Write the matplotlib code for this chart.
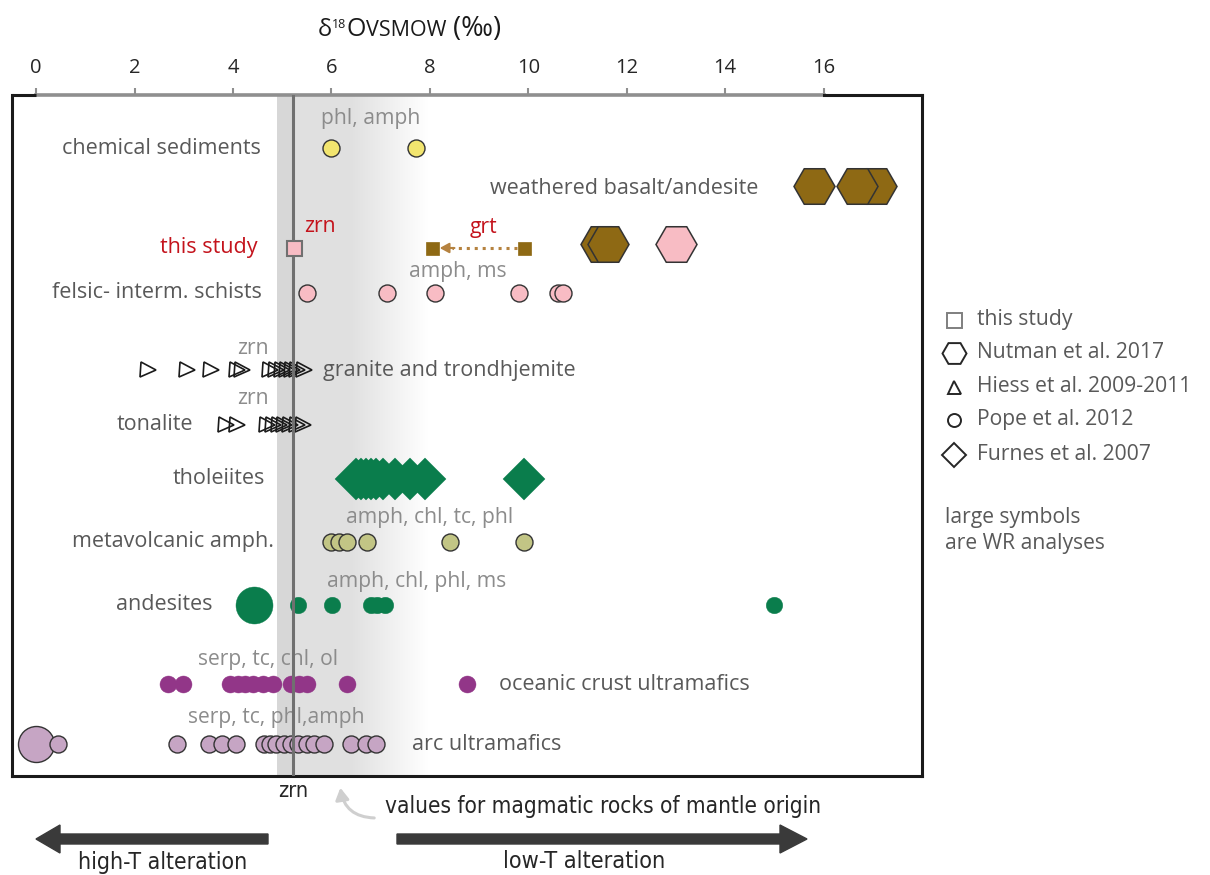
import matplotlib
matplotlib.use("Agg")
import numpy as np
import matplotlib.pyplot as plt
from matplotlib import font_manager as fm
from matplotlib.lines import Line2D
from matplotlib.patches import FancyArrow, FancyArrowPatch
from matplotlib.transforms import IdentityTransform

plt.rcParams['font.family'] = ['Open Sans', 'DejaVu Sans']

# ---------------- δ18O values (‰ VSMOW) ----------------
chem_sediments = [6.0, 7.72]
weathered_basalt_wr = [15.8, 17.07, 16.67]
this_study_zrn = [5.25]
this_study_grt = [8.05, 9.91]
schist_wr_brown = [11.48, 11.63]
schist_wr_pink = [13.0]
felsic_schists = [5.5, 7.13, 8.11, 9.82, 10.6, 10.71]
granite_zrn = [2.27, 3.07, 3.56, 4.08, 4.18, 4.76, 4.88, 5.0, 5.1, 5.2, 5.3, 5.45]
tonalite_zrn = [3.86, 4.09, 4.69, 4.81, 4.93, 5.04, 5.16, 5.3, 5.43]
tholeiites_wr = [6.5, 6.6, 6.7, 6.8, 6.9, 7.05, 7.3, 7.6, 7.9, 9.92]
metavolcanic_amph = [6.0, 6.16, 6.32, 6.73, 8.4, 9.92]
andesites_wr = [4.42]
andesites = [5.32, 6.02, 6.8, 6.93, 7.09, 15.0]
oceanic_ultramafics = [2.68, 2.99, 3.94, 4.1, 4.25, 4.41, 4.6, 4.81, 5.18, 5.35,
                       5.5, 6.32, 8.75]
arc_ultramafics_wr = [0.0]
arc_ultramafics = [0.44, 2.87, 3.51, 3.78, 4.07, 4.63, 4.76, 4.88, 5.03, 5.18,
                   5.33, 5.5, 5.65, 5.85, 6.39, 6.71, 6.9]
zircon_mantle = 5.22
x_ticks = [0, 2, 4, 6, 8, 10, 12, 14, 16]

# ---------------- layout ----------------
W, H = 1210, 875
fig = plt.figure(figsize=(W / 100, H / 100), dpi=100)
fig.patch.set_facecolor('white')
AX_L, AX_R, AX_T, AX_B = 12, 922, 95, 776
ax = fig.add_axes([AX_L / W, 1 - AX_B / H, (AX_R - AX_L) / W, (AX_B - AX_T) / H])
XMIN, XMAX = -0.49, 18.0
ax.set_xlim(XMIN, XMAX)
ax.set_ylim(AX_B, AX_T)

ROW = dict(chem=148, weath=186, this=248, wr_mid=244, felsic=293, granite=370,
           tonalite=425, thol=479, metav=542, andes=605, ocean=684, arc=744)

PT = 72 / 100.0   # pixel -> point
EDGE = '#333333'
LABEL = '#595959'
MINERAL = '#8c8c8c'
RED = '#c4131c'
BROWN = '#8e6914'
PINK = '#f8bcc4'
GREEN = '#0a7d4c'

# mantle-value band with fade to the right
xs = np.linspace(4.9, 7.95, 400)
g = np.where(xs < zircon_mantle, 0.845,
             np.where(xs < 6.4, 0.88, 0.88 + 0.12 * (xs - 6.4) / (7.95 - 6.4)))
img = np.dstack([g, g, g])
ax.imshow(img, extent=(4.9, 7.95, AX_B, AX_T), aspect='auto', zorder=0,
          interpolation='bilinear')
ax.set_xlim(XMIN, XMAX)
ax.set_ylim(AX_B, AX_T)
ax.axvline(zircon_mantle, color='#707070', lw=2.2, zorder=6)


def pts(values, row, marker, size_px, fc, ec=EDGE, lw=1.0, z=3):
    ax.plot(values, [ROW[row]] * len(values), linestyle='none', marker=marker,
            markersize=size_px * PT, markerfacecolor=fc, markeredgecolor=ec,
            markeredgewidth=lw, zorder=z, clip_on=False)


pts(chem_sediments, 'chem', 'o', 17, '#f2e56f')
for v in weathered_basalt_wr:
    pts([v], 'weath', 'H', 41, BROWN, lw=1.1)
for v in schist_wr_brown:
    pts([v], 'wr_mid', 'H', 41, BROWN, lw=1.1)
pts(schist_wr_pink, 'wr_mid', 'H', 41, PINK, lw=1.1)
pts(this_study_zrn, 'this', 's', 15, PINK, ec='#707070', lw=1.5, z=8)
pts(this_study_grt, 'this', 's', 13, BROWN, ec=BROWN, lw=0.5)
for v in felsic_schists:
    pts([v], 'felsic', 'o', 17, PINK)
for v in granite_zrn:
    pts([v], 'granite', '>', 15, 'none', ec='#1a1a1a', lw=1.2)
for v in tonalite_zrn:
    pts([v], 'tonalite', '>', 15, 'none', ec='#1a1a1a', lw=1.2)
for v in tholeiites_wr:
    pts([v], 'thol', 'D', 41 / 1.414, GREEN, ec=GREEN, lw=0.3)
for v in metavolcanic_amph:
    pts([v], 'metav', 'o', 17, '#c2c585')
pts(andesites_wr, 'andes', 'o', 37, GREEN, ec=GREEN, lw=0.3)
pts(andesites, 'andes', 'o', 16.5, GREEN, ec=GREEN, lw=0.3)
pts(oceanic_ultramafics, 'ocean', 'o', 17, '#923688', ec='#923688', lw=0.3)
pts(arc_ultramafics_wr, 'arc', 'o', 36, '#c6a5c4')
for v in arc_ultramafics:
    pts([v], 'arc', 'o', 17, '#c6a5c4')

# garnet core -> rim arrow
ax.plot([this_study_grt[1] - 0.14, 8.45], [ROW['this']] * 2, linestyle=(0, (1, 1.6)),
        color='#b5823f', lw=2.2, zorder=2)
ax.annotate('', xy=(8.2, ROW['this']), xytext=(8.5, ROW['this']),
            arrowprops=dict(arrowstyle='-|>,head_length=0.55,head_width=0.3',
                            color='#b5823f', lw=1.5, shrinkA=0, shrinkB=0), zorder=2)

# row labels
FS = 15.5
FS_MIN = 15.2


def label(x, row, s, ha='right', color=LABEL, dy=0, fs=FS):
    ax.text(x, ROW[row] + dy, s, ha=ha, va='center', fontsize=fs, color=color,
            zorder=5, clip_on=False)


label(4.57, 'chem', 'chemical sediments')
label(14.67, 'weath', 'weathered basalt/andesite', dy=2)
label(4.49, 'this', 'this study', color=RED)
label(4.59, 'felsic', 'felsic- interm. schists')
label(5.83, 'granite', 'granite and trondhjemite', ha='left')
label(3.19, 'tonalite', 'tonalite')
label(4.66, 'thol', 'tholeiites')
label(4.83, 'metav', 'metavolcanic amph.')
label(3.58, 'andes', 'andesites')
label(9.4, 'ocean', 'oceanic crust ultramafics', ha='left')
label(7.64, 'arc', 'arc ultramafics', ha='left')

# mineral annotations
label(6.79, 'chem', 'phl, amph', ha='center', color=MINERAL, dy=-30, fs=FS_MIN)
label(5.77, 'this', 'zrn', ha='center', color=RED, dy=-21, fs=FS_MIN)
label(9.08, 'this', 'grt', ha='center', color=RED, dy=-21, fs=FS_MIN)
label(8.57, 'felsic', 'amph, ms', ha='center', color=MINERAL, dy=-21, fs=FS_MIN)
label(4.41, 'granite', 'zrn', ha='center', color=MINERAL, dy=-22, fs=FS_MIN)
label(4.41, 'tonalite', 'zrn', ha='center', color=MINERAL, dy=-27, fs=FS_MIN)
label(8.0, 'metav', 'amph, chl, tc, phl', ha='center', color=MINERAL, dy=-24, fs=FS_MIN)
label(7.74, 'andes', 'amph, chl, phl, ms', ha='center', color=MINERAL, dy=-23, fs=FS_MIN)
label(4.71, 'ocean', 'serp, tc, chl, ol', ha='center', color=MINERAL, dy=-24, fs=FS_MIN)
label(4.88, 'arc', 'serp, tc, phl,amph', ha='center', color=MINERAL, dy=-26, fs=FS_MIN)

# axes frame: gray scale bar on top from 0 to 16, black elsewhere
ax.set_yticks([])
ax.xaxis.tick_top()
ax.set_xticks(x_ticks)
ax.set_xticklabels([str(t) for t in x_ticks])
ax.tick_params(axis='x', top=True, bottom=False, direction='out', length=5,
               width=1.5, color='#8f8f8f', labelsize=14.5, labelcolor='#262626', pad=7)
for side in ('left', 'right', 'bottom'):
    ax.spines[side].set_color('#1a1a1a')
    ax.spines[side].set_linewidth(2.2)
ax.spines['top'].set_color('#8f8f8f')
ax.spines['top'].set_linewidth(2.6)
ax.spines['top'].set_bounds(0, 16)
ax.plot([XMIN, 0], [AX_T, AX_T], color='#1a1a1a', lw=2.2, clip_on=False,
        zorder=7, solid_capstyle='butt')
ax.plot([16, XMAX], [AX_T, AX_T], color='#1a1a1a', lw=2.2, clip_on=False,
        zorder=7, solid_capstyle='projecting')

fig.canvas.draw()
renderer = fig.canvas.get_renderer()


def chain(x_px, base_px, pieces, color='#1a1a1a'):
    """Title made of consecutive pieces of different sizes."""
    x = x_px
    for s, size, rise in pieces:
        t = fig.text(x / W, 1 - (base_px - rise) / H, s, fontsize=size, color=color,
                     ha='left', va='baseline')
        x = t.get_window_extent(renderer).x1


chain(318, 36, [('δ', 17, 0), ('18', 9, 8), ('O', 18, 0), ('VSMOW', 15.5, 0),
                (' (‰)', 19.5, 0)])


def ftext(x_px, y_px, s, **kw):
    return fig.text(x_px / W, 1 - y_px / H, s, **kw)


# legend
LEG_FS = 15.2
legend_items = [('s', 15, 'this study', 320, '#7f7f7f'),
                ('H', 24, 'Nutman et al. 2017', 353, '#262626'),
                ('^', 13, 'Hiess et al. 2009-2011', 387, '#262626'),
                ('o', 13, 'Pope et al. 2012', 420, '#262626'),
                ('D', 23 / 1.414, 'Furnes et al. 2007', 455, '#262626')]
for mk, sz, txt, yy, ec in legend_items:
    fig.add_artist(Line2D([954 / W], [1 - yy / H], transform=fig.transFigure,
                          marker=mk, markersize=sz * PT, markerfacecolor='none',
                          markeredgecolor=ec, markeredgewidth=1.4, linestyle='none'))
    ftext(977, yy, txt, fontsize=LEG_FS, color=LABEL, ha='left', va='center')
ftext(945, 517, 'large symbols', fontsize=LEG_FS, color=LABEL, ha='left', va='center')
ftext(945, 543, 'are WR analyses', fontsize=LEG_FS, color=LABEL, ha='left', va='center')


# a narrow sans face for the captions below the frame
def narrow_font():
    best = None
    for f in fm.fontManager.ttflist:
        name = f.name.lower()
        stretch = str(f.stretch).lower()
        narrowish = ('narrow' in name or 'condensed' in name
                     or stretch in ('condensed', 'semi-condensed', 'extra-condensed'))
        if not narrowish or f.style != 'normal':
            continue
        weight = f.weight if isinstance(f.weight, int) else fm.weight_dict.get(f.weight, 400)
        if weight != 400:
            continue
        if 'mono' in name or 'serif' in name and 'sans' not in name:
            continue
        rank = 0 if 'sans' in name else 1
        if best is None or rank < best[0]:
            best = (rank, f.fname)
    return fm.FontProperties(fname=best[1]) if best else fm.FontProperties(family='Open Sans')


NARROW = narrow_font()


def caption(x_px, y_px, s, width_px, ha='left', size=17):
    t = ftext(x_px, y_px, s, fontproperties=NARROW, color='#262626', ha=ha, va='center')
    t.set_fontsize(size)
    w = t.get_window_extent(renderer).width
    t.set_fontsize(size * width_px / w)
    return t


caption(293, 791, 'zrn', 30, ha='center')
caption(385, 806, 'values for magmatic rocks of mantle origin', 435)
caption(163, 862, 'high-T alteration', 168, ha='center')
caption(584, 862, 'low-T alteration', 162, ha='center')

fig.add_artist(FancyArrowPatch((377, H - 818), (340, H - 785),
                               transform=IdentityTransform(),
                               connectionstyle='arc3,rad=-0.45',
                               arrowstyle='-|>,head_length=7,head_width=4',
                               color='#cfcfcf', lw=2.2))
ARROW = '#3a3a3a'
fig.add_artist(FancyArrow(268, H - 839, 36 - 268, 0, width=10, head_width=28,
                          head_length=24, length_includes_head=True, color=ARROW,
                          transform=IdentityTransform()))
fig.add_artist(FancyArrow(397, H - 839, 807 - 397, 0, width=10, head_width=28,
                          head_length=27, length_includes_head=True, color=ARROW,
                          transform=IdentityTransform()))

fig.savefig('out.png', dpi=100)
